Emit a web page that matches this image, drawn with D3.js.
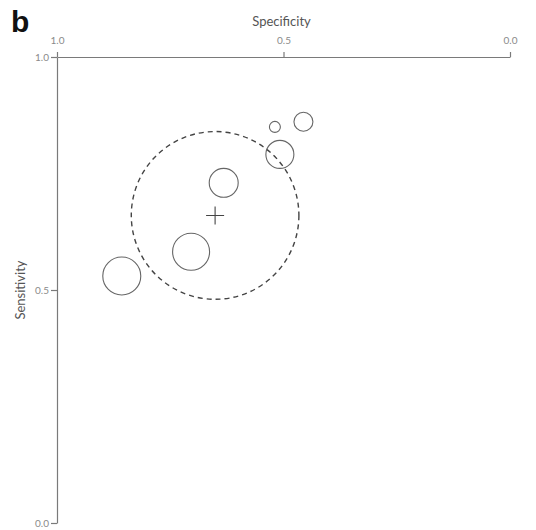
<!DOCTYPE html>
<html>
<head>
<meta charset="utf-8">
<script src="https://cdn.jsdelivr.net/npm/d3@7"></script>
<style>
  html, body { margin: 0; padding: 0; background: #fff; }
  svg { display: block; }
</style>
</head>
<body>
<svg id="chart" width="536" height="530"></svg>
<script>
// ---- data ----
const studySpecificity = [0.857, 0.704, 0.632, 0.508, 0.519, 0.456];
const studySensitivity = [0.530, 0.582, 0.730, 0.791, 0.850, 0.861];
const studyWeight      = [361, 342, 210, 196, 30, 90];
const summarySpecificity = 0.651;
const summarySensitivity = 0.660;
const regionSpecHalfWidth = 0.185;
const regionSensHalfWidth = 0.180;
const specTicks = [1.0, 0.5, 0.0];
const sensTicks = [1.0, 0.5, 0.0];
const panelLabel = "b";
const xTitle = "Specificity";
const yTitle = "Sensitivity";

(function () {
// ---- layout ----
const svg = d3.select("#chart");
const mLeft = 57, mRight = 510, mTop = 57, mBottom = 523;
const x = d3.scaleLinear().domain([1, 0]).range([mLeft, mRight]);
const y = d3.scaleLinear().domain([0, 1]).range([mBottom, mTop]);
const r = d3.scaleSqrt().domain([0, 400]).range([0, 20]);
const fontFam = "Lato, 'Open Sans', sans-serif";

// panel label
svg.append("text").attr("x", 11).attr("y", 32)
  .attr("font-family", "'Liberation Sans', Arial, sans-serif")
  .attr("font-weight", "bold").attr("font-size", 30).attr("fill", "#111")
  .text(panelLabel);

// axes
const fmt = d3.format(".1f");
const xAxis = svg.append("g").attr("transform", `translate(0,${mTop})`)
  .call(d3.axisTop(x).tickValues(specTicks).tickFormat(fmt).tickSize(5).tickSizeOuter(0));
const yAxis = svg.append("g").attr("transform", `translate(${mLeft},0)`)
  .call(d3.axisLeft(y).tickValues(sensTicks).tickFormat(fmt).tickSize(6).tickSizeOuter(0));
[xAxis, yAxis].forEach(g => {
  g.select(".domain").attr("stroke", "#7a7a7a").attr("stroke-width", 1.2);
  g.selectAll(".tick line").attr("stroke", "#7a7a7a").attr("stroke-width", 1.2);
  g.selectAll(".tick text").attr("fill", "#8a8a8a").attr("font-size", 10)
    .attr("font-family", fontFam);
});
xAxis.selectAll(".tick text").attr("dy", "-0.55em");
yAxis.selectAll(".tick text").attr("x", -8);

// axis titles
svg.append("text").attr("x", (mLeft + mRight) / 2 - 2).attr("y", 26)
  .attr("text-anchor", "middle").attr("font-family", fontFam)
  .attr("font-size", 13).attr("fill", "#555").text(xTitle);
svg.append("text")
  .attr("transform", `translate(25,${y(0.5)}) rotate(-90)`)
  .attr("text-anchor", "middle").attr("font-family", fontFam)
  .attr("font-size", 13).attr("fill", "#555").text(yTitle);

// confidence region
svg.append("ellipse")
  .attr("cx", x(summarySpecificity)).attr("cy", y(summarySensitivity))
  .attr("rx", Math.abs(x(summarySpecificity - regionSpecHalfWidth) - x(summarySpecificity)))
  .attr("ry", Math.abs(y(summarySensitivity + regionSensHalfWidth) - y(summarySensitivity)))
  .attr("fill", "none").attr("stroke", "#444").attr("stroke-width", 1.4)
  .attr("stroke-dasharray", "5,4");

// study circles
const studies = studySpecificity.map((s, i) => ({ spec: s, sens: studySensitivity[i], w: studyWeight[i] }));
svg.append("g").selectAll("circle").data(studies).join("circle")
  .attr("cx", d => x(d.spec)).attr("cy", d => y(d.sens)).attr("r", d => r(d.w))
  .attr("fill", "none").attr("stroke", "#666").attr("stroke-width", 1.1);

// summary cross
const cx = x(summarySpecificity), cy = y(summarySensitivity), arm = 9;
svg.append("path")
  .attr("d", `M${cx - arm},${cy}H${cx + arm}M${cx},${cy - arm}V${cy + arm}`)
  .attr("stroke", "#444").attr("stroke-width", 1.1).attr("fill", "none");
})();
</script>
</body>
</html>
